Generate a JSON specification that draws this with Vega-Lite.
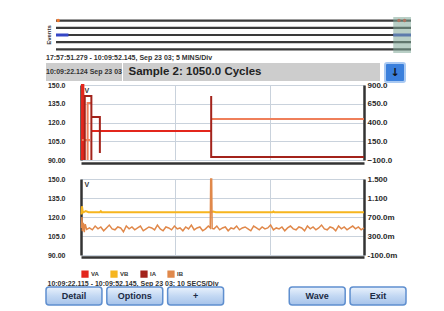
{
  "$schema": "https://vega.github.io/schema/vega-lite/v6.json",
  "padding": {"left": 45, "top": 17, "right": 4, "bottom": 0},
  "background": "white",
  "config": {
    "view": {"stroke": null},
    "font": "Liberation Sans",
    "axis": {"labelFont": "Liberation Sans", "labelFontWeight": "bold", "labelColor": "#2a2a2a", "ticks": false, "titleFont": "Liberation Sans"}
  },
  "datasets": {
    "lanes": [{"lane": 1, "t0": 0, "t1": 100}, {"lane": 2, "t0": 0, "t1": 100}, {"lane": 3, "t0": 0, "t1": 100}, {"lane": 4, "t0": 0, "t1": 100}, {"lane": 5, "t0": 0, "t1": 100}],
    "blueSeg": [{"lane": 3, "t0": 0, "t1": 3.5}, {"lane": 3, "t0": 95, "t1": 100}],
    "highlight": [{"t0": 95, "t1": 100}],
    "thumbDots": [{"lane": 1, "t": 0.6, "kind": "start"}, {"lane": 1, "t": 96.6, "kind": "event"}, {"lane": 1, "t": 98.2, "kind": "event"}],
    "top": [
      {"s": "VA", "g": 1, "t": 0.1, "y": 90}, {"s": "VA", "g": 1, "t": 0.1, "y": 150}, {"s": "VA", "g": 1, "t": 0.25, "y": 150}, {"s": "VA", "g": 1, "t": 0.25, "y": 90},
      {"s": "VA", "g": 2, "t": 1.1, "y": 113.2}, {"s": "VA", "g": 2, "t": 13.8, "y": 113.2},
      {"s": "IB", "g": 1, "t": 0.1, "y": 167}, {"s": "IB", "g": 1, "t": 0.95, "y": 167},
      {"s": "IB", "g": 2, "t": 0.7, "y": -100}, {"s": "IB", "g": 2, "t": 0.7, "y": 660}, {"s": "IB", "g": 2, "t": 1.1, "y": 660},
      {"s": "IB", "g": 3, "t": 13.8, "y": 447}, {"s": "IB", "g": 3, "t": 30, "y": 447},
      {"s": "IA", "g": 1, "t": 0.4, "y": -100}, {"s": "IA", "g": 1, "t": 0.4, "y": 753}, {"s": "IA", "g": 1, "t": 1.1, "y": 753}, {"s": "IA", "g": 1, "t": 1.1, "y": -100},
      {"s": "IA", "g": 2, "t": 1.1, "y": 473}, {"s": "IA", "g": 2, "t": 2.0, "y": 473}, {"s": "IA", "g": 2, "t": 2.0, "y": -7},
      {"s": "IA", "g": 3, "t": 13.8, "y": 753}, {"s": "IA", "g": 3, "t": 13.8, "y": -60}, {"s": "IA", "g": 3, "t": 30, "y": -60}
    ],
    "bottom": [
      {"s": "VB", "g": 1, "t": 0.05, "y": 122}, {"s": "VB", "g": 1, "t": 0.1, "y": 128.5}, {"s": "VB", "g": 1, "t": 0.2, "y": 123.5}, {"s": "VB", "g": 1, "t": 0.5, "y": 124.6}, {"s": "VB", "g": 1, "t": 0.8, "y": 123.8}, {"s": "VB", "g": 1, "t": 2.0, "y": 123.8}, {"s": "VB", "g": 1, "t": 2.1, "y": 124.6}, {"s": "VB", "g": 1, "t": 2.2, "y": 123.8}, {"s": "VB", "g": 1, "t": 13.8, "y": 123.8}, {"s": "VB", "g": 1, "t": 14.0, "y": 124.3}, {"s": "VB", "g": 1, "t": 14.3, "y": 123.8}, {"s": "VB", "g": 1, "t": 20.3, "y": 123.8}, {"s": "VB", "g": 1, "t": 20.4, "y": 124.4}, {"s": "VB", "g": 1, "t": 20.5, "y": 123.8}, {"s": "VB", "g": 1, "t": 30, "y": 123.8},
      {"s": "IB", "g": 1, "t": 0.05, "y": 0.47}, {"s": "IB", "g": 1, "t": 0.1, "y": 0.7}, {"s": "IB", "g": 1, "t": 0.15, "y": 0.4}, {"s": "IB", "g": 1, "t": 0.25, "y": 0.58}, {"s": "IB", "g": 1, "t": 0.35, "y": 0.38}, {"s": "IB", "g": 1, "t": 0.45, "y": 0.55}, {"s": "IB", "g": 1, "t": 0.6, "y": 0.44},
      {"s": "IB", "g": 1, "t": 0.9, "y": 0.47}, {"s": "IB", "g": 1, "t": 1.2, "y": 0.43}, {"s": "IB", "g": 1, "t": 1.5, "y": 0.51}, {"s": "IB", "g": 1, "t": 1.8, "y": 0.45}, {"s": "IB", "g": 1, "t": 2.1, "y": 0.49}, {"s": "IB", "g": 1, "t": 2.4, "y": 0.41}, {"s": "IB", "g": 1, "t": 2.7, "y": 0.47}, {"s": "IB", "g": 1, "t": 3.0, "y": 0.53}, {"s": "IB", "g": 1, "t": 3.3, "y": 0.45}, {"s": "IB", "g": 1, "t": 3.6, "y": 0.43},
      {"s": "IB", "g": 1, "t": 3.9, "y": 0.49}, {"s": "IB", "g": 1, "t": 4.2, "y": 0.47}, {"s": "IB", "g": 1, "t": 4.5, "y": 0.39}, {"s": "IB", "g": 1, "t": 4.8, "y": 0.51}, {"s": "IB", "g": 1, "t": 5.1, "y": 0.45}, {"s": "IB", "g": 1, "t": 5.4, "y": 0.49}, {"s": "IB", "g": 1, "t": 5.7, "y": 0.43}, {"s": "IB", "g": 1, "t": 6.0, "y": 0.47}, {"s": "IB", "g": 1, "t": 6.3, "y": 0.51}, {"s": "IB", "g": 1, "t": 6.6, "y": 0.41},
      {"s": "IB", "g": 1, "t": 6.9, "y": 0.45}, {"s": "IB", "g": 1, "t": 7.2, "y": 0.49}, {"s": "IB", "g": 1, "t": 7.5, "y": 0.47}, {"s": "IB", "g": 1, "t": 7.8, "y": 0.43}, {"s": "IB", "g": 1, "t": 8.1, "y": 0.53}, {"s": "IB", "g": 1, "t": 8.4, "y": 0.45}, {"s": "IB", "g": 1, "t": 8.7, "y": 0.41}, {"s": "IB", "g": 1, "t": 9.0, "y": 0.49}, {"s": "IB", "g": 1, "t": 9.3, "y": 0.47}, {"s": "IB", "g": 1, "t": 9.6, "y": 0.43},
      {"s": "IB", "g": 1, "t": 9.9, "y": 0.51}, {"s": "IB", "g": 1, "t": 10.2, "y": 0.45}, {"s": "IB", "g": 1, "t": 10.5, "y": 0.47}, {"s": "IB", "g": 1, "t": 10.8, "y": 0.41}, {"s": "IB", "g": 1, "t": 11.1, "y": 0.49}, {"s": "IB", "g": 1, "t": 11.4, "y": 0.45}, {"s": "IB", "g": 1, "t": 11.7, "y": 0.53}, {"s": "IB", "g": 1, "t": 12.0, "y": 0.43}, {"s": "IB", "g": 1, "t": 12.3, "y": 0.47}, {"s": "IB", "g": 1, "t": 12.6, "y": 0.49},
      {"s": "IB", "g": 1, "t": 12.9, "y": 0.41}, {"s": "IB", "g": 1, "t": 13.2, "y": 0.45}, {"s": "IB", "g": 1, "t": 13.5, "y": 0.51},
      {"s": "IB", "g": 1, "t": 13.7, "y": 0.47}, {"s": "IB", "g": 1, "t": 13.75, "y": 1.5}, {"s": "IB", "g": 1, "t": 13.85, "y": 1.5}, {"s": "IB", "g": 1, "t": 13.9, "y": 0.46},
      {"s": "IB", "g": 1, "t": 14.1, "y": 0.45}, {"s": "IB", "g": 1, "t": 14.4, "y": 0.51}, {"s": "IB", "g": 1, "t": 14.7, "y": 0.43}, {"s": "IB", "g": 1, "t": 15.0, "y": 0.47}, {"s": "IB", "g": 1, "t": 15.3, "y": 0.49}, {"s": "IB", "g": 1, "t": 15.6, "y": 0.41}, {"s": "IB", "g": 1, "t": 15.9, "y": 0.47}, {"s": "IB", "g": 1, "t": 16.2, "y": 0.45}, {"s": "IB", "g": 1, "t": 16.5, "y": 0.51}, {"s": "IB", "g": 1, "t": 16.8, "y": 0.43},
      {"s": "IB", "g": 1, "t": 17.1, "y": 0.47}, {"s": "IB", "g": 1, "t": 17.4, "y": 0.49}, {"s": "IB", "g": 1, "t": 17.7, "y": 0.45}, {"s": "IB", "g": 1, "t": 18.0, "y": 0.41}, {"s": "IB", "g": 1, "t": 18.3, "y": 0.51}, {"s": "IB", "g": 1, "t": 18.6, "y": 0.47}, {"s": "IB", "g": 1, "t": 18.9, "y": 0.43}, {"s": "IB", "g": 1, "t": 19.2, "y": 0.49}, {"s": "IB", "g": 1, "t": 19.5, "y": 0.45}, {"s": "IB", "g": 1, "t": 19.8, "y": 0.47},
      {"s": "IB", "g": 1, "t": 20.1, "y": 0.53}, {"s": "IB", "g": 1, "t": 20.4, "y": 0.43}, {"s": "IB", "g": 1, "t": 20.7, "y": 0.47}, {"s": "IB", "g": 1, "t": 21.0, "y": 0.45}, {"s": "IB", "g": 1, "t": 21.3, "y": 0.49}, {"s": "IB", "g": 1, "t": 21.6, "y": 0.41}, {"s": "IB", "g": 1, "t": 21.9, "y": 0.47}, {"s": "IB", "g": 1, "t": 22.2, "y": 0.51}, {"s": "IB", "g": 1, "t": 22.5, "y": 0.45}, {"s": "IB", "g": 1, "t": 22.8, "y": 0.43},
      {"s": "IB", "g": 1, "t": 23.1, "y": 0.49}, {"s": "IB", "g": 1, "t": 23.4, "y": 0.47}, {"s": "IB", "g": 1, "t": 23.7, "y": 0.41}, {"s": "IB", "g": 1, "t": 24.0, "y": 0.51}, {"s": "IB", "g": 1, "t": 24.3, "y": 0.45}, {"s": "IB", "g": 1, "t": 24.6, "y": 0.49}, {"s": "IB", "g": 1, "t": 24.9, "y": 0.43}, {"s": "IB", "g": 1, "t": 25.2, "y": 0.47}, {"s": "IB", "g": 1, "t": 25.5, "y": 0.53}, {"s": "IB", "g": 1, "t": 25.8, "y": 0.45},
      {"s": "IB", "g": 1, "t": 26.1, "y": 0.43}, {"s": "IB", "g": 1, "t": 26.4, "y": 0.49}, {"s": "IB", "g": 1, "t": 26.7, "y": 0.47}, {"s": "IB", "g": 1, "t": 27.0, "y": 0.41}, {"s": "IB", "g": 1, "t": 27.3, "y": 0.51}, {"s": "IB", "g": 1, "t": 27.6, "y": 0.45}, {"s": "IB", "g": 1, "t": 27.9, "y": 0.49}, {"s": "IB", "g": 1, "t": 28.2, "y": 0.43}, {"s": "IB", "g": 1, "t": 28.5, "y": 0.47}, {"s": "IB", "g": 1, "t": 28.8, "y": 0.51},
      {"s": "IB", "g": 1, "t": 29.1, "y": 0.45}, {"s": "IB", "g": 1, "t": 29.4, "y": 0.49}, {"s": "IB", "g": 1, "t": 29.7, "y": 0.43}, {"s": "IB", "g": 1, "t": 30.0, "y": 0.47}
    ],
    "buttons": [{"b": "Detail"}, {"b": "Options"}, {"b": "+"}, {"b": "Wave"}, {"b": "Exit"}]
  },
  "spacing": 11,
  "resolve": {"scale": {"color": "independent"}, "legend": {"color": "independent"}},
  "vconcat": [
    {
      "spacing": -2,
      "resolve": {"scale": {"color": "independent"}, "legend": {"color": "independent"}},
      "vconcat": [
        {
          "spacing": 1,
          "resolve": {"scale": {"color": "independent"}, "legend": {"color": "independent"}},
          "vconcat": [
            {
              "spacing": 2,
              "title": {"text": "17:57:51.279 - 10:09:52.145, Sep 23 03;   5 MINS/Div", "orient": "bottom", "anchor": "start", "fontSize": 7, "fontWeight": "bold", "color": "#333", "offset": 1},
              "resolve": {"scale": {"color": "independent"}, "legend": {"color": "independent"}},
              "hconcat": [
                {"width": 6, "height": 36, "data": {"values": [{"label": "Events"}]}, "mark": {"type": "text", "angle": 270, "fontSize": 6, "fontWeight": "bold", "color": "#333"}, "encoding": {"text": {"field": "label"}}},
                {
                  "width": 355,
                  "height": 36,
                  "layer": [
                    {
                      "data": {"name": "lanes"},
                      "mark": {"type": "rule", "stroke": "#3a3a3a", "strokeWidth": 2.2},
                      "encoding": {
                        "x": {"field": "t0", "type": "quantitative", "scale": {"domain": [0, 100]}, "axis": null},
                        "x2": {"field": "t1"},
                        "y": {"field": "lane", "type": "quantitative", "scale": {"domain": [0.5, 5.3], "reverse": true}, "axis": null}
                      }
                    },
                    {
                      "data": {"name": "blueSeg"},
                      "mark": {"type": "rule", "stroke": "#3446c6", "strokeWidth": 3},
                      "encoding": {
                        "x": {"field": "t0", "type": "quantitative"},
                        "x2": {"field": "t1"},
                        "y": {"field": "lane", "type": "quantitative"}
                      }
                    },
                    {
                      "data": {"name": "thumbDots"},
                      "mark": {"type": "point", "filled": true, "size": 12, "opacity": 1},
                      "encoding": {
                        "x": {"field": "t", "type": "quantitative"},
                        "y": {"field": "lane", "type": "quantitative"},
                        "color": {"field": "kind", "type": "nominal", "scale": {"domain": ["start", "event"], "range": ["#f07a30", "#e0341e"]}, "legend": null}
                      }
                    },
                    {
                      "data": {"name": "highlight"},
                      "mark": {"type": "rect", "fill": "#7fa898", "opacity": 0.55},
                      "encoding": {
                        "x": {"field": "t0", "type": "quantitative"},
                        "x2": {"field": "t1"}
                      }
                    }
                  ]
                }
              ]
            },
            {
              "hconcat": [
                {
                  "spacing": 0,
                  "hconcat": [
                    {"width": 76, "height": 18, "view": {"fill": "#cdcdcd", "stroke": null}, "data": {"values": [{"label": "10:09:22.124  Sep 23 03"}]}, "mark": {"type": "text", "fontSize": 7, "fontWeight": "bold", "color": "#333"}, "encoding": {"text": {"field": "label"}}},
                    {"width": 144, "height": 18, "view": {"fill": "#cdcdcd", "stroke": null}, "data": {"values": [{"label": "Sample 2: 1050.0 Cycles"}]}, "mark": {"type": "text", "fontSize": 11.5, "fontWeight": "bold", "color": "#222"}, "encoding": {"text": {"field": "label"}}},
                    {"width": 113, "height": 18, "view": {"fill": "#cdcdcd", "stroke": null}, "data": {"values": [{"label": ""}]}, "mark": {"type": "text"}, "encoding": {"text": {"field": "label"}}}
                  ]
                },
                {"width": 20, "height": 19, "view": {"fill": "#3b80dc", "stroke": "#a9c9f2", "strokeWidth": 2, "cornerRadius": 2}, "data": {"values": [{"label": "↓"}]}, "mark": {"type": "text", "fontSize": 11, "fontWeight": "bold", "font": "DejaVu Sans", "color": "#111"}, "encoding": {"text": {"field": "label"}}}
              ],
              "spacing": 4
            }
          ]
        },
        {
          "spacing": 0,
          "hconcat": [
            {"width": 1, "height": 10, "data": {"values": [{"label": ""}]}, "mark": {"type": "text"}, "encoding": {"text": {"field": "label"}}},
            {
              "width": 283,
              "height": 75,
              "data": {"name": "top"},
              "layer": [
                {
                  "transform": [{"filter": {"field": "s", "oneOf": ["VA", "VB"]}}],
                  "mark": {"type": "line", "strokeWidth": 2},
                  "encoding": {
                    "x": {"field": "t", "type": "quantitative", "scale": {"domain": [0, 30]}, "axis": {"values": [0, 10, 20, 30], "labels": false, "title": null, "grid": true, "gridColor": "#c9d2dc", "domainColor": "#333", "domainWidth": 2.5, "offset": 3}},
                    "y": {"field": "y", "type": "quantitative", "scale": {"domain": [90, 150]}, "axis": {"values": [90, 105, 120, 135, 150], "labelExpr": "datum.value == 90 ? '90.00' : format(datum.value, '.1f')", "labelFontSize": 7, "labelPadding": 16, "grid": true, "gridColor": "#c9d2dc", "domainColor": "#333", "domainWidth": 2.5, "title": "V", "titleAngle": 0, "titleX": 3, "titleY": 1, "titleAlign": "left", "titleBaseline": "top", "titleFontSize": 7, "titleColor": "#333"}},
                    "color": {"field": "s", "type": "nominal", "scale": {"domain": ["VA", "VB", "IA", "IB"], "range": ["#e3261c", "#f6b51e", "#a3231b", "#ef7f5a"]}, "legend": null},
                    "detail": {"field": "g"}
                  }
                },
                {
                  "transform": [{"filter": {"field": "s", "oneOf": ["IA", "IB"]}}],
                  "mark": {"type": "line", "strokeWidth": 2},
                  "encoding": {
                    "x": {"field": "t", "type": "quantitative", "scale": {"domain": [0, 30]}, "axis": {"values": [0, 10, 20, 30], "labels": false, "title": null, "grid": true, "gridColor": "#c9d2dc", "domainColor": "#333", "domainWidth": 2.5, "offset": 3}},
                    "y": {"field": "y", "type": "quantitative", "scale": {"domain": [-100, 900]}, "axis": {"orient": "right", "values": [-100, 150, 400, 650, 900], "format": ".1f", "labelFontSize": 8, "labelPadding": 3, "grid": false, "domainColor": "#333", "domainWidth": 2.5, "title": null}},
                    "color": {"field": "s", "type": "nominal", "legend": null},
                    "detail": {"field": "g"}
                  }
                }
              ],
              "resolve": {"scale": {"y": "independent"}}
            }
          ]
        }
      ]
    },
    {
      "spacing": -4,
      "resolve": {"scale": {"color": "independent"}, "legend": {"color": "independent"}},
      "vconcat": [
        {
          "spacing": 0,
          "resolve": {"scale": {"color": "independent"}, "legend": {"color": "independent"}},
          "hconcat": [
            {"width": 1, "height": 10, "data": {"values": [{"label": ""}]}, "mark": {"type": "text"}, "encoding": {"text": {"field": "label"}}},
            {
              "width": 283,
              "height": 76,
              "data": {"name": "bottom"},
              "title": {"text": "10:09:22.115 - 10:09:52.145, Sep 23 03;   10 SECS/Div", "orient": "bottom", "anchor": "start", "fontSize": 7, "fontWeight": "bold", "color": "#333", "offset": -3},
              "layer": [
                {
                  "transform": [{"filter": {"field": "s", "oneOf": ["VA", "VB"]}}],
                  "mark": {"type": "line", "strokeWidth": 2},
                  "encoding": {
                    "x": {"field": "t", "type": "quantitative", "scale": {"domain": [0, 30]}, "axis": {"values": [0, 10, 20, 30], "labels": false, "title": null, "grid": true, "gridColor": "#c9d2dc", "domainColor": "#333", "domainWidth": 2.5, "offset": 2}},
                    "y": {"field": "y", "type": "quantitative", "scale": {"domain": [90, 150]}, "axis": {"values": [90, 105, 120, 135, 150], "labelExpr": "datum.value == 90 ? '90.00' : format(datum.value, '.1f')", "labelFontSize": 7, "labelPadding": 16, "grid": true, "gridColor": "#c9d2dc", "domainColor": "#333", "domainWidth": 2.5, "title": "V", "titleAngle": 0, "titleX": 3, "titleY": 1, "titleAlign": "left", "titleBaseline": "top", "titleFontSize": 7, "titleColor": "#333"}},
                    "color": {"field": "s", "type": "nominal", "scale": {"domain": ["VA", "VB", "IA", "IB"], "range": ["#e3261c", "#f6b51e", "#a3231b", "#e0884a"]}, "legend": {"orient": "bottom", "direction": "horizontal", "title": null, "symbolType": "square", "symbolSize": 14, "symbolStrokeWidth": 3.5, "labelFontSize": 6, "labelFontWeight": "bold", "labelColor": "#333", "columnPadding": 6, "labelOffset": 2, "offset": 13, "padding": 0}},
                    "detail": {"field": "g"}
                  }
                },
                {
                  "transform": [{"filter": {"field": "s", "oneOf": ["IA", "IB"]}}],
                  "mark": {"type": "line", "strokeWidth": 1.5},
                  "encoding": {
                    "x": {"field": "t", "type": "quantitative", "scale": {"domain": [0, 30]}, "axis": {"values": [0, 10, 20, 30], "labels": false, "title": null, "grid": true, "gridColor": "#c9d2dc", "domainColor": "#333", "domainWidth": 2.5, "offset": 2}},
                    "y": {"field": "y", "type": "quantitative", "scale": {"domain": [-0.1, 1.5]}, "axis": {"orient": "right", "values": [-0.1, 0.3, 0.7, 1.1, 1.5], "labelExpr": "datum.value == 1.5 ? '1.500' : datum.value == 1.1 ? '1.100' : replace(format(datum.value * 1000, '.1f'), '−', '-') + 'm'", "labelFontSize": 8, "labelPadding": 3, "grid": false, "domainColor": "#333", "domainWidth": 2.5, "title": null}},
                    "color": {"field": "s", "type": "nominal"},
                    "detail": {"field": "g"}
                  }
                }
              ],
              "resolve": {"scale": {"y": "independent"}}
            }
          ]
        },
        {
          "width": 360,
          "height": 18,
          "data": {"name": "buttons"},
          "layer": [
            {
              "mark": {"type": "rect", "cornerRadius": 3, "stroke": "#5f8fcf", "strokeWidth": 1.5, "fill": {"gradient": "linear", "x1": 0, "y1": 0, "x2": 0, "y2": 1, "stops": [{"offset": 0, "color": "#eaf2fc"}, {"offset": 0.5, "color": "#c3d8f3"}, {"offset": 1, "color": "#a6c3ea"}]}},
              "encoding": {"x": {"field": "b", "type": "nominal", "scale": {"domain": ["Detail", "Options", "+", "gap", "Wave", "Exit"], "paddingInner": 0.08, "paddingOuter": 0}, "axis": null}}
            },
            {
              "mark": {"type": "text", "fontSize": 9, "fontWeight": "bold", "color": "#1b2b44"},
              "encoding": {"x": {"field": "b", "type": "nominal", "scale": {"domain": ["Detail", "Options", "+", "gap", "Wave", "Exit"], "paddingInner": 0.08, "paddingOuter": 0}, "axis": null}, "text": {"field": "b"}}
            }
          ]
        }
      ]
    }
  ]
}
